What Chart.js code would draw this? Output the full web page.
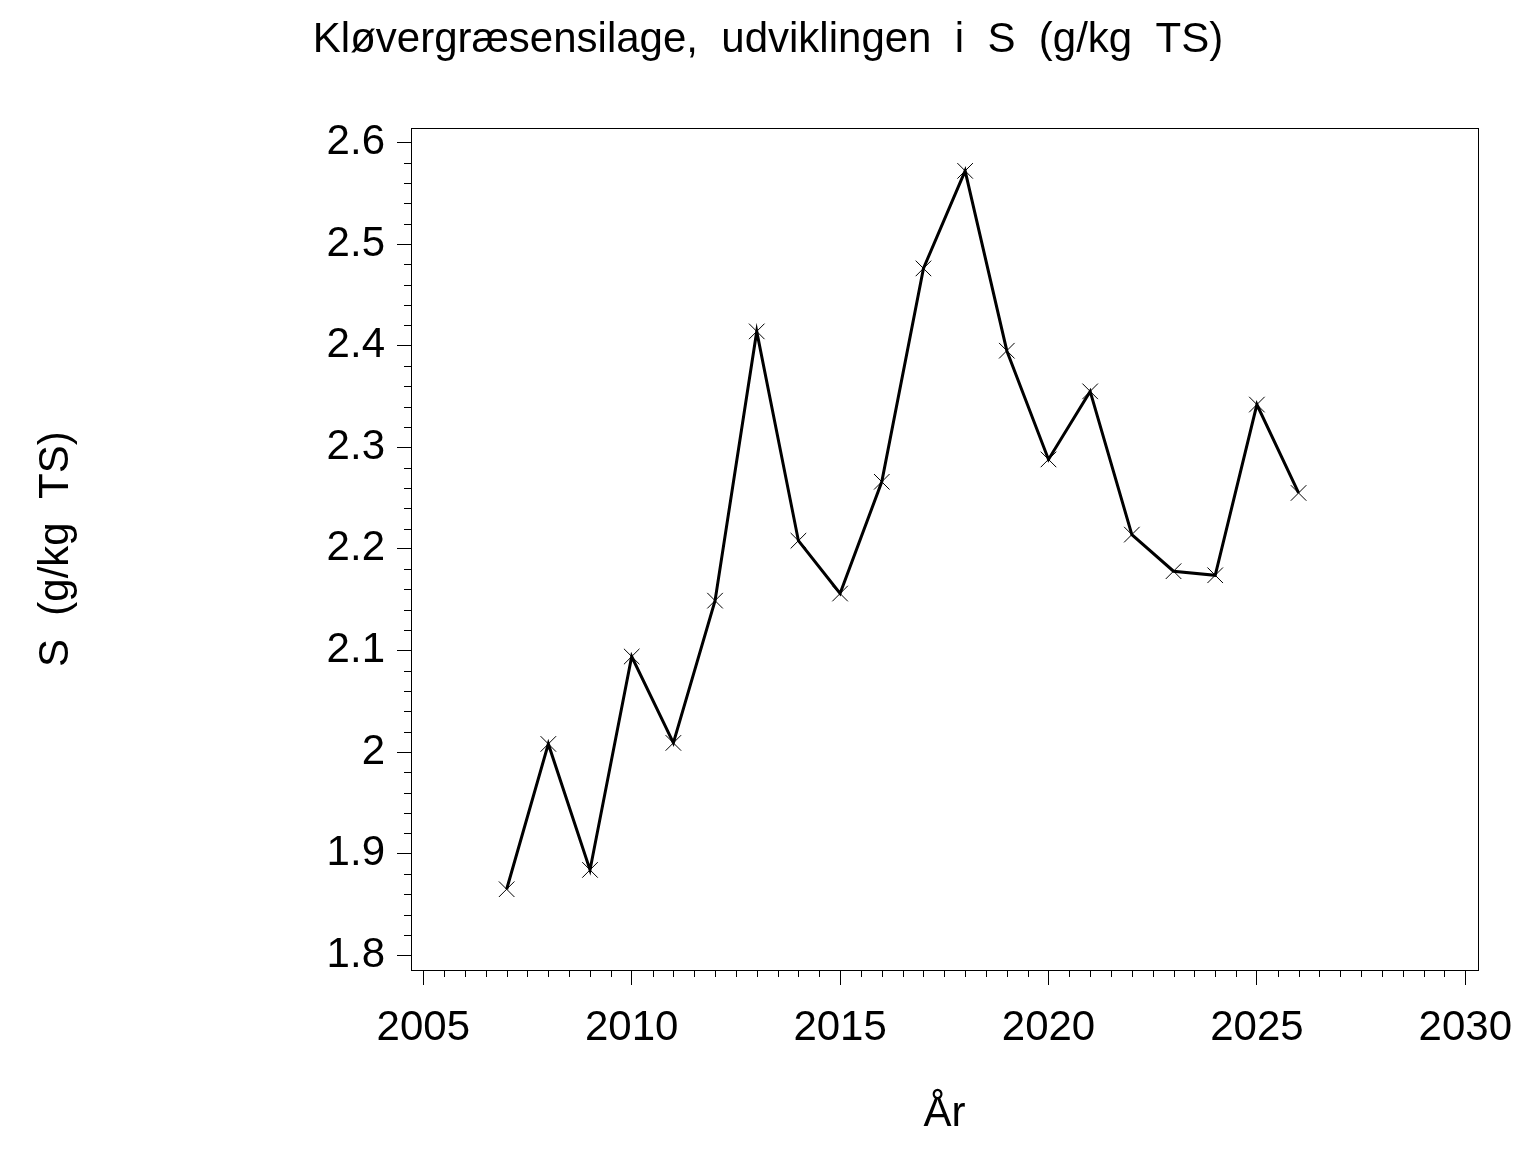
<!DOCTYPE html>
<html lang="da">
<head>
<meta charset="UTF-8">
<title>Kløvergræsensilage, udviklingen i S</title>
<script src="https://cdn.jsdelivr.net/npm/chart.js"></script>
<style>
    html, body { margin: 0; padding: 0; background: #fff; }
    #wrap { width: 1536px; height: 1152px; }
</style>
</head>
<body>
<div id="wrap"><canvas id="sChart" width="1536" height="1152"></canvas></div>
<script>
// data
var years = [2007, 2008, 2009, 2010, 2011, 2012, 2013, 2014, 2015, 2016,
             2017, 2018, 2019, 2020, 2021, 2022, 2023, 2024, 2025, 2026];
var sValues = [1.865, 2.008, 1.884, 2.094, 2.009, 2.149, 2.414, 2.208, 2.156, 2.266,
               2.476, 2.572, 2.395, 2.288, 2.355, 2.214, 2.178, 2.174, 2.342, 2.255];

var xMajorTicks = [2005, 2010, 2015, 2020, 2025, 2030];
var yMajorTicks = [1.8, 1.9, 2, 2.1, 2.2, 2.3, 2.4, 2.5, 2.6];
var xMinorStep = 0.5;
var yMinorStep = 0.02;

var titleText = 'Kløvergræsensilage,  udviklingen  i  S  (g/kg  TS)';
var yTitle = 'S  (g/kg  TS)';
var xTitle = 'År';

var fontFamily = '"Liberation Sans", Arial, Helvetica, sans-serif';

function isMajor(list, v) {
    return list.some(function (m) { return Math.abs(m - v) < 1e-6; });
}

function stepTicks(list, step) {
    var out = [];
    var lo = list[0], hi = list[list.length - 1];
    var n = Math.round((hi - lo) / step);
    for (var i = 0; i <= n; i++) {
        out.push({ value: Math.round((lo + i * step) * 1000) / 1000 });
    }
    return out;
}

// frame around the plot + short minor ticks
var frameAndMinor = {
    id: 'frameAndMinor',
    afterDraw: function (chart) {
        var ctx = chart.ctx;
        var a = chart.chartArea;
        var xs = chart.scales.x, ys = chart.scales.y;
        ctx.save();
        ctx.strokeStyle = '#000';
        ctx.lineWidth = 1;
        ctx.beginPath();
        xs.ticks.forEach(function (t) {
            if (isMajor(xMajorTicks, t.value)) return;
            var px = Math.round(xs.getPixelForValue(t.value)) + 0.5;
            ctx.moveTo(px, a.bottom);
            ctx.lineTo(px, a.bottom + 7);
        });
        ys.ticks.forEach(function (t) {
            if (isMajor(yMajorTicks, t.value)) return;
            var py = Math.round(ys.getPixelForValue(t.value)) + 0.5;
            ctx.moveTo(a.left, py);
            ctx.lineTo(a.left - 7, py);
        });
        ctx.stroke();
        ctx.strokeRect(Math.round(a.left) + 0.5, Math.round(a.top) + 0.5,
                       Math.round(a.right - a.left), Math.round(a.bottom - a.top));
        ctx.restore();
    }
};

Chart.defaults.color = '#000';
Chart.defaults.font.family = fontFamily;

var points = years.map(function (y, i) { return { x: y, y: sValues[i] }; });

var ctx = document.getElementById('sChart').getContext('2d');
var sChart = new Chart(ctx, {
    type: 'line',
    data: {
        datasets: [{
            data: points,
            borderColor: '#000',
            borderWidth: 3,
            tension: 0,
            fill: false,
            pointStyle: 'crossRot',
            pointRadius: 11,
            pointBorderWidth: 1,
            pointBorderColor: '#000',
            pointBackgroundColor: '#000'
        }]
    },
    options: {
        responsive: false,
        devicePixelRatio: 1,
        animation: false,
        layout: { padding: 0 },
        plugins: {
            legend: { display: false },
            tooltip: { enabled: false },
            title: {
                display: true,
                text: titleText,
                color: '#000',
                font: { size: 42, weight: 'normal', family: fontFamily },
                padding: { top: 15, bottom: 63 }
            }
        },
        scales: {
            x: {
                type: 'linear',
                min: 2004.705,
                max: 2030.305,
                afterBuildTicks: function (scale) {
                    scale.ticks = stepTicks(xMajorTicks, xMinorStep);
                },
                afterFit: function (scale) { scale.height = 182; },
                grid: {
                    drawOnChartArea: false,
                    drawTicks: true,
                    tickLength: 15,
                    tickWidth: 1,
                    tickColor: function (c) {
                        return isMajor(xMajorTicks, c.tick.value) ? '#000' : 'rgba(0,0,0,0)';
                    }
                },
                border: { display: true, color: '#000', width: 1 },
                ticks: {
                    autoSkip: false,
                    maxRotation: 0,
                    padding: 18,
                    color: '#000',
                    font: { size: 42 },
                    callback: function (v) {
                        return isMajor(xMajorTicks, v) ? String(v) : '';
                    }
                },
                title: {
                    display: true,
                    text: xTitle,
                    color: '#000',
                    font: { size: 42, weight: 'normal' },
                    padding: { top: 0, bottom: 12 }
                }
            },
            y: {
                type: 'linear',
                min: 1.7855,
                max: 2.6138,
                afterBuildTicks: function (scale) {
                    scale.ticks = stepTicks(yMajorTicks, yMinorStep);
                },
                afterFit: function (scale) { scale.width = 411; },
                grid: {
                    drawOnChartArea: false,
                    drawTicks: true,
                    tickLength: 14,
                    tickWidth: 1,
                    tickColor: function (c) {
                        return isMajor(yMajorTicks, c.tick.value) ? '#000' : 'rgba(0,0,0,0)';
                    }
                },
                border: { display: true, color: '#000', width: 1 },
                ticks: {
                    autoSkip: false,
                    padding: 12,
                    color: '#000',
                    font: { size: 42 },
                    callback: function (v) {
                        return isMajor(yMajorTicks, v) ? String(v) : '';
                    }
                },
                title: {
                    display: true,
                    text: yTitle,
                    color: '#000',
                    font: { size: 42, weight: 'normal' },
                    padding: { top: 31, bottom: 0 }
                }
            },
            // empty right-hand strip so the title centres on the whole page
            yRight: {
                type: 'linear',
                position: 'right',
                display: true,
                grid: { display: false, drawTicks: false },
                border: { display: false },
                ticks: { display: false },
                afterFit: function (scale) { scale.width = 58; }
            }
        }
    },
    plugins: [frameAndMinor]
});
</script>
</body>
</html>
